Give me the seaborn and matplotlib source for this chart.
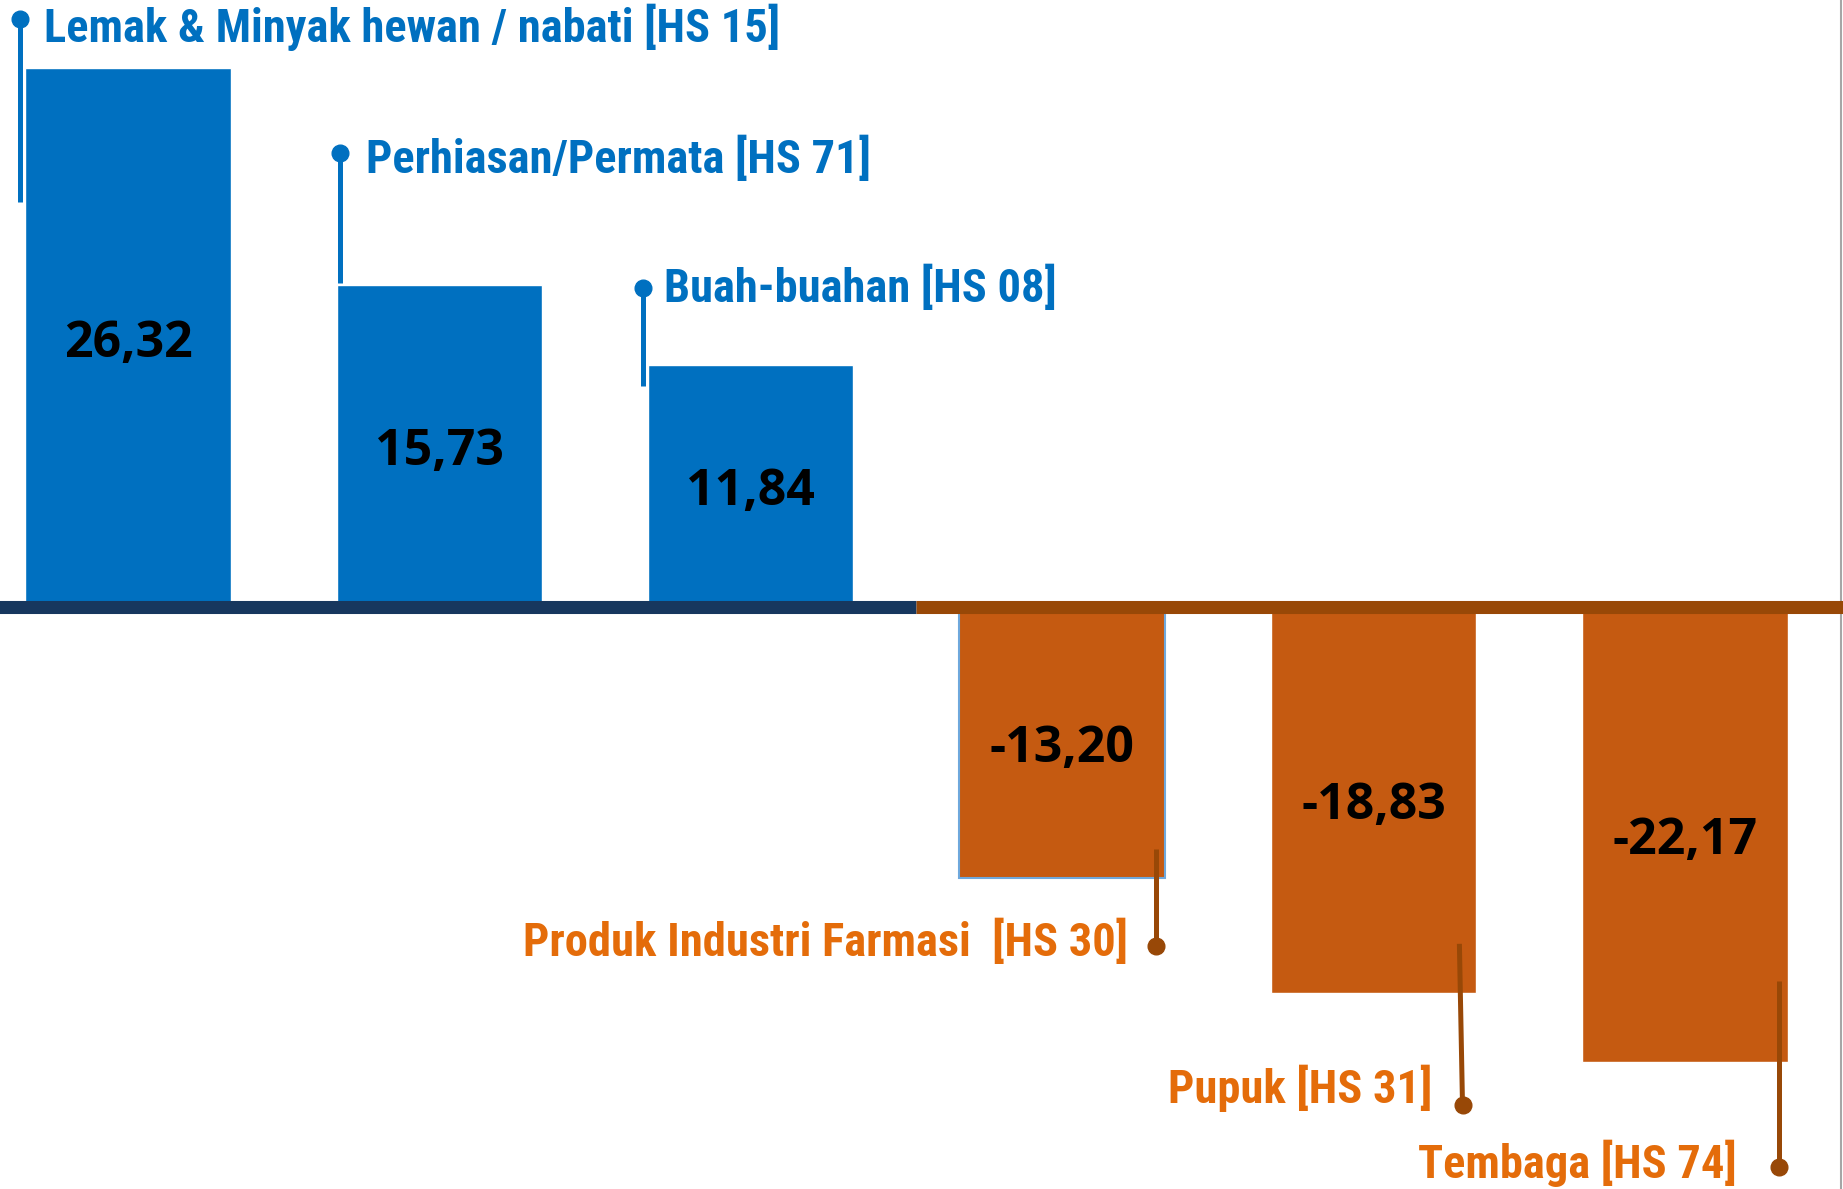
#!/usr/bin/env python3

import pandas
import seaborn as sns
import matplotlib.pyplot as plt

# Komoditas dengan perubahan terbesar (persen)
kategori = [
    "Lemak & Minyak hewan / nabati [HS 15]",
    "Perhiasan/Permata [HS 71]",
    "Buah-buahan [HS 08]",
    "Produk Industri Farmasi  [HS 30]",
    "Pupuk [HS 31]",
    "Tembaga [HS 74]",
]
nilai = [26.32, 15.73, 11.84, -13.20, -18.83, -22.17]
label_nilai = ["26,32", "15,73", "11,84", "-13,20", "-18,83", "-22,17"]

BLUE = "#0070C0"
ORANGE_BAR = "#C55A11"
ORANGE_TEXT = "#E46C0A"
BROWN = "#984807"
NAVY = "#17375E"

sns.set_style("white")
plt.rcParams["font.family"] = ["Open Sans", "DejaVu Sans"]

df = pandas.DataFrame({"kategori": kategori, "nilai": nilai})
colors = [BLUE if v > 0 else ORANGE_BAR for v in nilai]

fig = plt.figure(figsize=(18.43, 11.89), dpi=100)
ax = fig.add_axes([0, 0, 1, 1])
sns.barplot(data=df, x="kategori", y="nilai", hue="kategori", palette=colors,
            legend=False, width=0.66, saturation=1, ax=ax)
ax.set_xlim(-0.411, 5.508)
ax.set_ylim(-28.37, 29.63)
ax.axis("off")

# thin light-blue outline on the first negative bar, as in the source
ax.patches[3].set_edgecolor("#6FA8DC")
ax.patches[3].set_linewidth(1.5)

# grey border line on the right edge of the slide
ax.axvline(5.503, color="#A6A6A6", linewidth=1.5, zorder=2)

# zero line: navy under the gains, brown under the losses
ax.hlines(0, -0.6, 2.53, color=NAVY, linewidth=9.4, zorder=3)
ax.hlines(0, 2.53, 5.7, color=BROWN, linewidth=9.4, zorder=3)

# values inside the bars
for i, (v, txt) in enumerate(zip(nilai, label_nilai)):
    ax.text(i, v / 2, txt, ha="center", va="center_baseline", fontsize=36,
            fontweight="bold", color="black", zorder=4)

# leader lines: (line x at start, line x at dot, line start y, dot y,
#                text x offset, text baseline y, ha)
leaders = [
    (-0.347, -0.347, 19.76, 28.71, -0.27, 27.59, "left"),
    (-0.32, -0.32, 15.83, 22.17, -0.235, 21.20, "left"),
    (-0.347, -0.347, 10.80, 15.59, -0.28, 14.90, "left"),
    (0.302, 0.302, -11.78, -16.51, 0.212, -17.0, "right"),
    (0.276, 0.286, -16.41, -24.27, 0.19, -24.17, "right"),
    (0.302, 0.302, -18.22, -27.29, 0.167, -27.85, "right"),
]
label_font = ["Roboto Condensed", "DejaVu Sans"]
for i, (name, v, (x0, x1, y0, y1, tx, ty, ha)) in enumerate(zip(kategori, nilai, leaders)):
    line_col = BLUE if v > 0 else BROWN
    text_col = BLUE if v > 0 else ORANGE_TEXT
    ax.plot([i + x0, i + x1], [y0, y1], color=line_col, linewidth=3.6,
            solid_capstyle="butt", zorder=5)
    ax.plot(i + x1, y1, "o", color=line_col, markersize=12, zorder=5)
    ax.text(i + tx, ty, name, ha=ha, va="baseline", fontsize=33.5,
            fontweight="bold", color=text_col, family=label_font, zorder=5)

fig.savefig("out.png", dpi=100)
